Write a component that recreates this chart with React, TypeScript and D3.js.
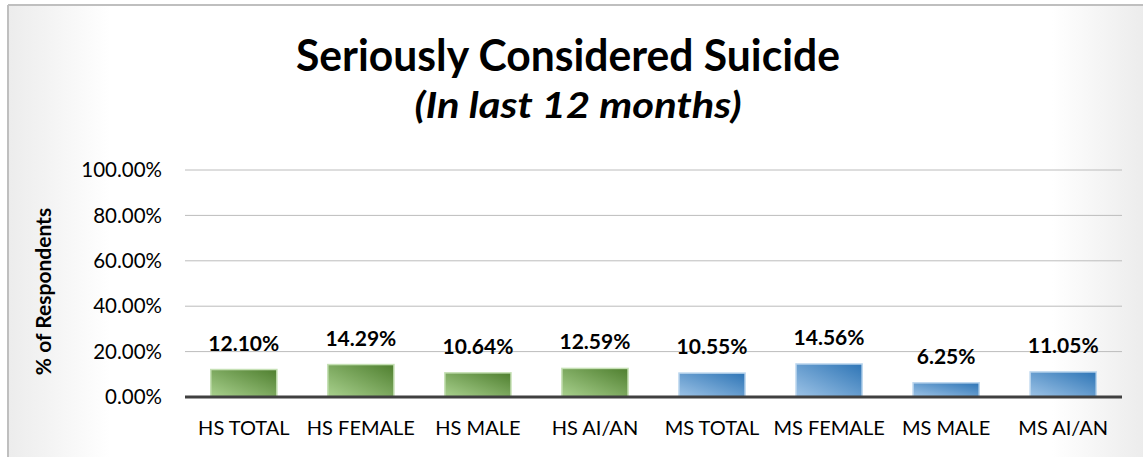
import React from "react";
import * as d3 from "d3";

const categories = ["HS TOTAL", "HS FEMALE", "HS MALE", "HS AI/AN", "MS TOTAL", "MS FEMALE", "MS MALE", "MS AI/AN"];
const values = [12.1, 14.29, 10.64, 12.59, 10.55, 14.56, 6.25, 11.05];
const groups = ["HS", "HS", "HS", "HS", "MS", "MS", "MS", "MS"];
const yTicks = [0, 20, 40, 60, 80, 100];

const W = 1143;
const H = 457;
const FONT = "Lato, 'Open Sans', 'DejaVu Sans', sans-serif";

export default function App() {
  const x = d3.scaleBand<string>().domain(categories).range([185, 1122]).paddingInner(0.435).paddingOuter(0.22);
  const y = d3.scaleLinear().domain([0, 100]).range([397, 170]);

  return (
    <svg width={W} height={H} style={{ position: "absolute", left: 0, top: 0 }} fontFamily={FONT}>
      <defs>
        <linearGradient id="bg" x1="0" y1="0" x2="1" y2="0">
          <stop offset="0" stopColor="#ececec" />
          <stop offset="0.09" stopColor="#ffffff" />
          <stop offset="0.92" stopColor="#ffffff" />
          <stop offset="1" stopColor="#ececec" />
        </linearGradient>
        <linearGradient id="gHS" x1="0" y1="1" x2="1" y2="0">
          <stop offset="0" stopColor="#a9d18e" />
          <stop offset="1" stopColor="#4f7f2f" />
        </linearGradient>
        <linearGradient id="gMS" x1="0" y1="1" x2="1" y2="0">
          <stop offset="0" stopColor="#9dc3e6" />
          <stop offset="1" stopColor="#2e75b6" />
        </linearGradient>
      </defs>
      <rect x={8} y={5} width={W - 8} height={H - 5} fill="url(#bg)" />
      <line x1={8} y1={5} x2={W} y2={5} stroke="#bfbfbf" strokeWidth={2} />
      <line x1={8} y1={5} x2={8} y2={H} stroke="#bfbfbf" strokeWidth={2} />

      <text x={568} y={71} textAnchor="middle" fontWeight="bold" fontSize={44} fill="#000" textLength={544} lengthAdjust="spacingAndGlyphs">
        Seriously Considered Suicide
      </text>
      <text x={578} y={118} textAnchor="middle" fontWeight="bold" fontStyle="italic" fontSize={36} fill="#000" textLength={327} lengthAdjust="spacingAndGlyphs">
        (In last 12 months)
      </text>

      {yTicks.map((t) => (
        <g key={t}>
          {t > 0 && <line x1={185} x2={1122} y1={y(t)} y2={y(t)} stroke="#bcbcbc" strokeWidth={1} />}
          <text x={162} y={y(t)} dy="0.35em" textAnchor="end" fontSize={20.5} fill="#000">
            {t.toFixed(2)}%
          </text>
        </g>
      ))}

      <text
        transform={`translate(51,${(y(0) + y(100)) / 2 + 8}) rotate(-90)`}
        textAnchor="middle"
        fontWeight="bold"
        fontSize={21}
        fill="#000"
      >
        % of Respondents
      </text>

      {categories.map((c, i) => {
        const v = values[i];
        const bx = x(c)!;
        const bw = x.bandwidth();
        return (
          <g key={c}>
            <rect
              x={bx}
              y={y(v)}
              width={bw}
              height={y(0) - y(v)}
              fill={groups[i] === "HS" ? "url(#gHS)" : "url(#gMS)"}
              stroke={groups[i] === "HS" ? "#c5e0b4" : "#bdd7ee"}
              strokeWidth={1.5}
            />
            <text x={bx + bw / 2} y={y(v) - 19} textAnchor="middle" fontWeight="bold" fontSize={21} fill="#000">
              {v.toFixed(2)}%
            </text>
            <text x={bx + bw / 2} y={435} textAnchor="middle" fontSize={20} fill="#000">
              {c}
            </text>
          </g>
        );
      })}

      <line x1={185} x2={1122} y1={y(0)} y2={y(0)} stroke="#404040" strokeWidth={3} />
    </svg>
  );
}
